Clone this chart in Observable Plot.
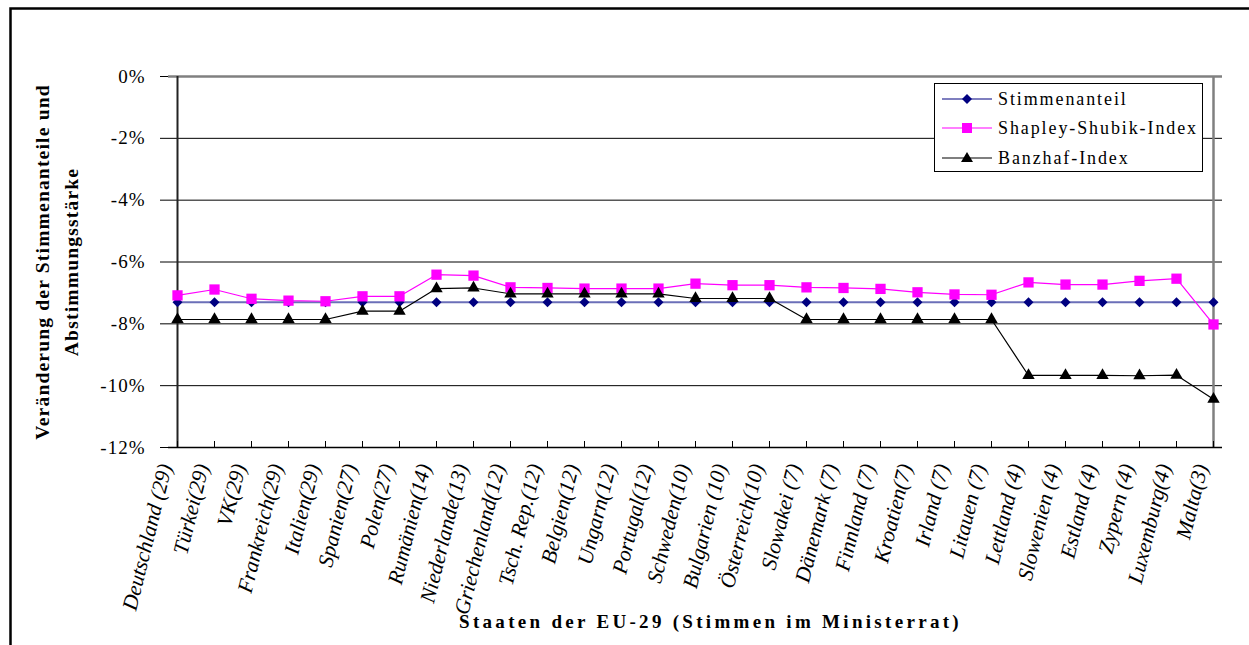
<!DOCTYPE html>
<html>
<head>
<meta charset="utf-8">
<script src="https://cdn.jsdelivr.net/npm/d3@7"></script>
<script src="https://cdn.jsdelivr.net/npm/@observablehq/plot@0.6"></script>
<style>
  html, body { margin: 0; padding: 0; background: #fff; }
  #wrap { position: relative; width: 1249px; height: 645px; overflow: hidden; }
  #wrap > svg { position: absolute; left: 0; top: 0; }
  g[aria-label="y-axis tick label"] text { letter-spacing: 1px; }
  #legend {
    position: absolute; left: 934px; top: 83px; width: 267px; height: 87px;
    border: 1px solid #000; background: #fff; box-sizing: content-box;
    font-family: "Liberation Serif", serif; font-size: 18px; letter-spacing: 1.9px;
  }
  .lrow { position: absolute; left: 0; height: 20px; display: flex; align-items: center; }
  .lrow svg { display: block; margin-left: 7px; flex: none; }
  .lrow span { margin-left: 6px; white-space: nowrap; line-height: 20px; }
</style>
</head>
<body>
<div id="wrap"></div>
<script>
// ---- data ----
const countries = [
  "Deutschland (29)", "Türkei(29)", "VK(29)", "Frankreich(29)", "Italien(29)",
  "Spanien(27)", "Polen(27)", "Rumänien(14)", "Niederlande(13)", "Griechenland(12)",
  "Tsch. Rep.(12)", "Belgien(12)", "Ungarn(12)", "Portugal(12)", "Schweden(10)",
  "Bulgarien (10)", "Österreich(10)", "Slowakei (7)", "Dänemark (7)", "Finnland (7)",
  "Kroatien(7)", "Irland (7)", "Litauen (7)", "Lettland (4)", "Slowenien (4)",
  "Estland (4)", "Zypern (4)", "Luxemburg(4)", "Malta(3)"
];
const stimmenanteil = [
  -7.3, -7.3, -7.3, -7.3, -7.3, -7.3, -7.3, -7.3, -7.3, -7.3,
  -7.3, -7.3, -7.3, -7.3, -7.3, -7.3, -7.3, -7.3, -7.3, -7.3,
  -7.3, -7.3, -7.3, -7.3, -7.3, -7.3, -7.3, -7.3, -7.3
];
const shapley = [
  -7.08, -6.89, -7.19, -7.25, -7.27, -7.11, -7.11, -6.41, -6.44, -6.82,
  -6.84, -6.86, -6.86, -6.86, -6.70, -6.75, -6.75, -6.82, -6.84, -6.87,
  -6.98, -7.05, -7.06, -6.66, -6.73, -6.73, -6.61, -6.54, -8.02
];
const banzhaf = [
  -7.86, -7.86, -7.86, -7.86, -7.86, -7.59, -7.59, -6.86, -6.84, -7.03,
  -7.03, -7.03, -7.03, -7.03, -7.18, -7.18, -7.18, -7.86, -7.86, -7.86,
  -7.86, -7.86, -7.86, -9.67, -9.67, -9.67, -9.68, -9.66, -10.44
];
const yTicks = [0, -2, -4, -6, -8, -10, -12];
const gridValues = [-2, -4, -6, -8, -10];
const seriesNames = ["Stimmenanteil", "Shapley-Shubik-Index", "Banzhaf-Index"];
const yTitle1 = ["Veränderung der Stimmenanteile und"];
const yTitle2 = ["Abstimmungsstärke"];
const xTitle = ["Staaten der EU-29 (Stimmen im Ministerrat)"];

const rows = countries.map((c, i) => ({c, s: stimmenanteil[i], sh: shapley[i], b: banzhaf[i]}));

const chart = Plot.plot({
  width: 1249, height: 645,
  marginLeft: 168, marginRight: 27, marginTop: 76, marginBottom: 198,
  style: {fontFamily: "'Liberation Serif', serif", background: "transparent", color: "#000"},
  x: {type: "point", domain: countries, padding: 0, label: null},
  y: {domain: [-12, 0], label: null},
  marks: [
    Plot.ruleY(gridValues, {stroke: "#000", strokeWidth: 1}),
    Plot.ruleY([0], {stroke: "#808080", strokeWidth: 2.5}),
    Plot.ruleX([countries[countries.length - 1]], {stroke: "#808080", strokeWidth: 2.5}),
    Plot.ruleY([-12], {stroke: "#000", strokeWidth: 1.5}),
    Plot.ruleX([countries[0]], {stroke: "#222", strokeWidth: 2}),
    Plot.axisY({ticks: yTicks, tickFormat: d => d + "%", tickSize: 8, tickPadding: 15,
      fontSize: 19, label: null, stroke: "#000"}),
    Plot.axisX({tickSize: 6, dy: -6, text: null, label: null, stroke: "#000"}),
    Plot.axisX({tickSize: 0, tickRotate: -76, tickPadding: 17, fontSize: 21.5,
      fontStyle: "italic", label: null, dx: -12}),
    // series
    Plot.line(rows, {x: "c", y: "s", stroke: "#6b6fb8", strokeWidth: 2}),
    Plot.dot(rows, {x: "c", y: "s", symbol: "diamond2", r: 4.5, fill: "#000080", stroke: "none"}),
    Plot.line(rows, {x: "c", y: "sh", stroke: "#ff00ff", strokeWidth: 1.2}),
    Plot.dot(rows, {x: "c", y: "sh", symbol: "square", r: 5.8, fill: "#ff00ff", stroke: "none"}),
    Plot.line(rows, {x: "c", y: "b", stroke: "#000", strokeWidth: 1.2}),
    Plot.dot(rows, {x: "c", y: "b", symbol: "triangle", r: 4.6, fill: "#000", stroke: "none"}),
    // titles
    Plot.text(yTitle1, {text: d => d, frameAnchor: "left", textAnchor: "middle", rotate: -90, dx: -126,
      fontSize: 19.5, fontWeight: "bold"}),
    Plot.text(yTitle2, {text: d => d, frameAnchor: "left", textAnchor: "middle", rotate: -90, dx: -97,
      fontSize: 19.5, fontWeight: "bold"}),
    Plot.text(xTitle, {text: d => d, frameAnchor: "bottom", textAnchor: "middle", dy: 180, dx: 15,
      fontSize: 19, fontWeight: "bold"})
  ]
});

const wrap = document.getElementById("wrap");
wrap.appendChild(chart);

const svg = d3.select(chart);
// letter spacing for titles
svg.selectAll("text").each(function() {
  const t = this.textContent;
  if (t === xTitle[0]) d3.select(this).style("letter-spacing", "3.3px");
  if (t === yTitle1[0] || t === yTitle2[0]) d3.select(this).style("letter-spacing", "1.2px");
});
// outer frame (top and left edges)
svg.insert("path", ":first-child")
  .attr("d", "M10.5,1000 L10.5,8.5 L1400,8.5")
  .attr("fill", "none").attr("stroke", "#000").attr("stroke-width", 2.5);
svg.insert("rect", ":first-child").attr("width", 1249).attr("height", 645).attr("fill", "#fff");

// legend
const legend = document.createElement("div");
legend.id = "legend";
const swatches = [
  {stroke: "#000080", fill: "#000080", sym: "diamond"},
  {stroke: "#ff00ff", fill: "#ff00ff", sym: "square"},
  {stroke: "#000", fill: "#000", sym: "triangle"}
];
const rowTops = [5, 34, 64];
seriesNames.forEach((name, i) => {
  const r = document.createElement("div");
  r.className = "lrow";
  r.style.top = rowTops[i] + "px";
  const sw = swatches[i];
  let shape;
  if (sw.sym === "diamond") shape = `<path d="M25,5 L30,10 L25,15 L20,10Z" fill="${sw.fill}"/>`;
  else if (sw.sym === "square") shape = `<rect x="20" y="5" width="10" height="10" fill="${sw.fill}"/>`;
  else shape = `<path d="M25,4 L31,14 L19,14Z" fill="${sw.fill}"/>`;
  r.innerHTML = `<svg width="50" height="20"><line x1="0" y1="10" x2="50" y2="10" stroke="${sw.stroke}" stroke-width="1.2"/>${shape}</svg><span>${name}</span>`;
  legend.appendChild(r);
});
wrap.appendChild(legend);
</script>
</body>
</html>
